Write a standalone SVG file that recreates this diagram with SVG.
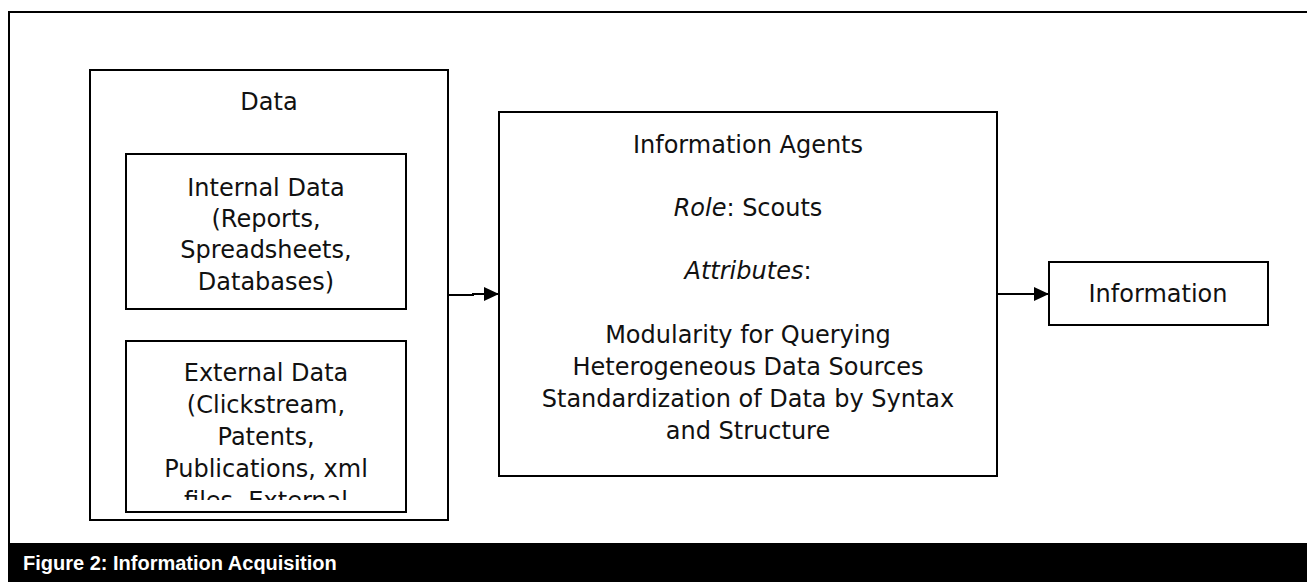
<svg xmlns="http://www.w3.org/2000/svg" width="1307" height="582" viewBox="0 0 1307 582">
<style>
.box{fill:#fff;stroke:#000;stroke-width:2}
.t{font-family:"DejaVu Sans",sans-serif;font-size:24px;fill:#111;text-anchor:middle}
.i{font-style:italic}
.cap{font-family:"Liberation Sans",sans-serif;font-weight:bold;font-size:20px;fill:#fff}
.con{fill:none;stroke:#000;stroke-width:2}
</style>
<defs>
<marker id="ah" viewBox="0 0 15 14" refX="15" refY="7" markerWidth="15" markerHeight="14" markerUnits="userSpaceOnUse" orient="auto">
<path d="M0,0 L15,7 L0,14 Z" fill="#000"/>
</marker>
<clipPath id="extclip"><rect x="127" y="342" width="278" height="158"/></clipPath>
</defs>
<rect width="1307" height="582" fill="#fff"/>
<g id="frame">
<path d="M1310,12 H9 V543" fill="none" stroke="#000" stroke-width="2"/>
<rect x="8" y="543" width="1299" height="39" fill="#000"/>
<text class="cap" x="23" y="570">Figure 2: Information Acquisition</text>
</g>
<g id="data">
<rect class="box" x="90" y="70" width="358" height="450"/>
<text class="t" x="269" y="110">Data</text>
</g>
<g id="internal">
<rect class="box" x="126" y="154" width="280" height="155"/>
<text class="t" x="266" y="196">Internal Data</text>
<text class="t" x="266" y="227">(Reports,</text>
<text class="t" x="266" y="258">Spreadsheets,</text>
<text class="t" x="266" y="290">Databases)</text>
</g>
<g id="external">
<rect class="box" x="126" y="341" width="280" height="171"/>
<g clip-path="url(#extclip)">
<text class="t" x="266" y="381">External Data</text>
<text class="t" x="266" y="413">(Clickstream,</text>
<text class="t" x="266" y="445">Patents,</text>
<text class="t" x="266" y="477">Publications, xml</text>
<text class="t" x="266" y="509">files, External</text>
</g>
</g>
<g id="agents">
<rect class="box" x="499" y="112" width="498" height="364"/>
<text class="t" x="748" y="153">Information Agents</text>
<text class="t" x="748" y="216"><tspan class="i">Role</tspan>: Scouts</text>
<text class="t" x="748" y="279"><tspan class="i">Attributes</tspan>:</text>
<text class="t" x="748" y="343">Modularity for Querying</text>
<text class="t" x="748" y="375">Heterogeneous Data Sources</text>
<text class="t" x="748" y="407">Standardization of Data by Syntax</text>
<text class="t" x="748" y="439">and Structure</text>
</g>
<g id="information">
<rect class="box" x="1049" y="262" width="219" height="63"/>
<text class="t" x="1158" y="302">Information</text>
</g>
<g id="connectors">
<path class="con" d="M449,295 H473 V294 H499" marker-end="url(#ah)"/>
<path class="con" d="M998,294 H1049" marker-end="url(#ah)"/>
</g>
</svg>
